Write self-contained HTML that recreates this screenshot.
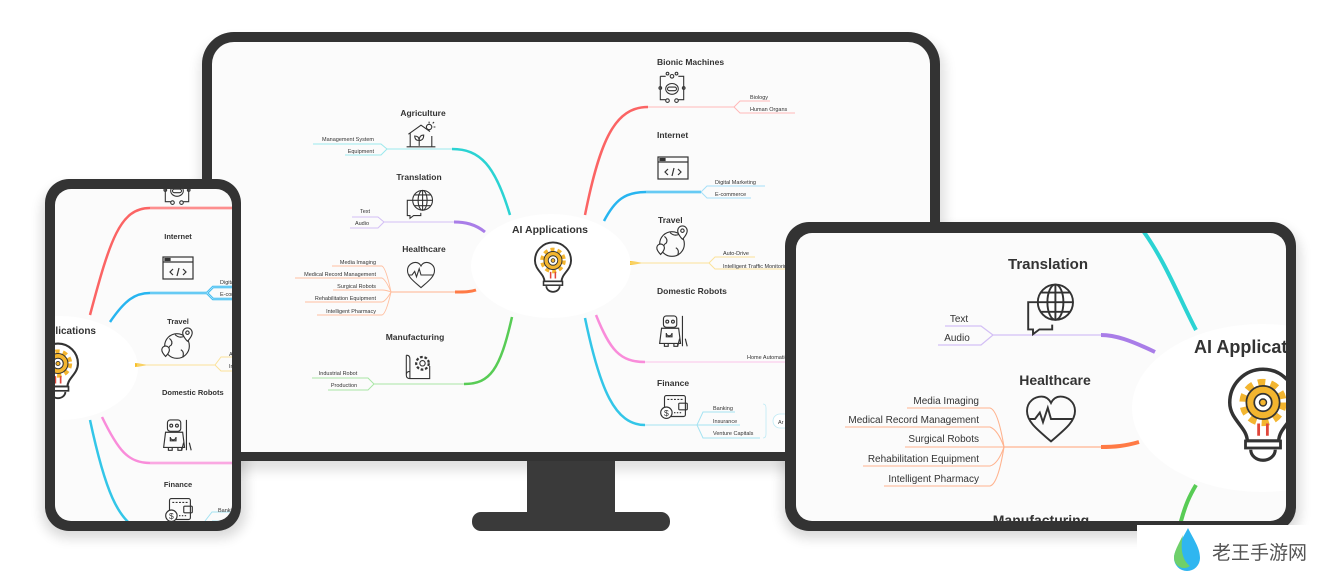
<!DOCTYPE html>
<html><head><meta charset="utf-8"><style>
html,body{margin:0;padding:0;background:#fff;}
svg{display:block;}
text{font-family:"Liberation Sans","Noto Sans CJK SC",sans-serif;fill:#333;}
.h{font-weight:bold;}
</style></head><body>
<svg width="1337" height="575" viewBox="0 0 1337 575" xmlns="http://www.w3.org/2000/svg">
<defs>
<filter id="sh" x="-10%" y="-10%" width="120%" height="130%"><feGaussianBlur stdDeviation="6"/></filter>
<clipPath id="cm"><rect x="212" y="42" width="718" height="410" rx="22"/></clipPath>
<clipPath id="cp"><rect x="55" y="189" width="177" height="332" rx="16"/></clipPath>
<clipPath id="ct"><rect x="796" y="233" width="490" height="288" rx="16"/></clipPath>
<g id="bulb">
 <path d="M-9,12 C-9,4 -19,0 -19,-10 A19,19 0 1 1 19,-10 C19,0 9,4 9,12 Z" fill="#fff" stroke="#333" stroke-width="2"/>
 <circle cx="0" cy="-10" r="11" fill="none" stroke="#f3b52f" stroke-width="5" stroke-dasharray="4 3"/>
 <circle cx="0" cy="-10" r="9.5" fill="#f3b52f" stroke="#333" stroke-width="1"/>
 <circle cx="0" cy="-10" r="5" fill="#fff" stroke="#333" stroke-width="1"/>
 <circle cx="0" cy="-10" r="2" fill="#f3b52f" stroke="#333" stroke-width="0.8"/>
 <path d="M-2.5,2 v7 M2.5,2 v7" stroke="#e0463a" stroke-width="1.6"/>
 <rect x="-10" y="12" width="20" height="4" fill="#fff" stroke="#333" stroke-width="1.6"/>
 <path d="M-7,17 a7,6 0 0 0 14,0" fill="none" stroke="#333" stroke-width="1.8"/>
</g>
<g id="i-code" fill="none" stroke="#333" stroke-width="1.2"><rect x="-15" y="-11" width="30" height="22"/><path d="M-15,-6 h30"/><rect x="-13" y="-9.5" width="2" height="2" fill="#333"/><rect x="-10" y="-9.5" width="2" height="2" fill="#333"/><path d="M-5,1 l-3,3 l3,3 M5,1 l3,3 l-3,3 M1,0 l-2,8"/></g>
<g id="i-globe" fill="none" stroke="#333" stroke-width="1.2"><path d="M-4,-3 h-9 v17 h3 v3 l4,-3 h8 v-3"/><circle cx="4" cy="-3" r="11" fill="#fff"/><path d="M-7,-3 h22 M4,-14 v22 M-5,-9 h18 M-5,3 h18"/><ellipse cx="4" cy="-3" rx="5" ry="11"/></g>
<g id="i-heart" fill="none" stroke="#333" stroke-width="1.2"><path d="M0,14 C-8,7 -15,2 -15,-5 C-15,-11 -10,-14 -6,-14 C-3,-14 -1,-12 0,-10 C1,-12 3,-14 6,-14 C10,-14 15,-11 15,-5 C15,2 8,7 0,14Z"/><path d="M-14,0 h4 l3,-4 l2,6 l3,-9 l2,7 h14"/></g>
<g id="i-house" fill="none" stroke="#333" stroke-width="1.2"><path d="M-14,-2 L0,-12 L10,-5 M-12,-3 v15 h24 v-12 M-16,12 h32"/><circle cx="9" cy="-10" r="3"/><path d="M9,-16 v2 M14,-10 h2 M13,-14 l1.5,-1.5 M-2,11 v-6 q-5,0 -5,-5 q5,0 5,5 q0,-6 5,-6 q0,6 -5,6"/></g>
<g id="i-mfg" fill="none" stroke="#333" stroke-width="1.2"><path d="M-13,-12 v22 q0,4 4,4 h22 v-14 M-13,-12 q4,0 4,4 v22 M-13,10 q0,-4 4,-4"/><circle cx="5" cy="-3" r="7" stroke-dasharray="3 2" stroke-width="2.5"/><circle cx="5" cy="-3" r="3"/></g>
<g id="i-bionic" fill="none" stroke="#333" stroke-width="1.2"><path d="M-13,-13 h6 M7,-13 h6 v26 h-6 M-7,13 h-6 v-26"/><circle cx="0" cy="-13" r="2"/><circle cx="-5" cy="-16" r="1.5"/><circle cx="5" cy="-16" r="1.5"/><circle cx="-13" cy="0" r="1.5"/><circle cx="13" cy="0" r="1.5"/><circle cx="-5" cy="14" r="2"/><circle cx="5" cy="14" r="2"/><ellipse cx="0" cy="1" rx="7" ry="6"/><rect x="-5" y="-1" width="10" height="4" rx="2"/></g>
<g id="i-world" fill="none" stroke="#333" stroke-width="1.2"><circle cx="0" cy="0" r="13"/><path d="M-8,-8 q4,3 2,7 q-4,2 -2,6 M4,4 q4,2 2,8 M-2,-12 q4,4 9,2"/><path d="M6,-14 a5,5 0 0 1 10,0 c0,4 -5,9 -5,9 c0,0 -5,-5 -5,-9z" fill="#fff"/><circle cx="11" cy="-14" r="1.8"/><path d="M-16,4 a4,4 0 0 1 8,0 c0,3 -4,7 -4,7 c0,0 -4,-4 -4,-7z" fill="#fff"/></g>
<g id="i-robot" fill="none" stroke="#333" stroke-width="1.2"><rect x="-9" y="-18" width="14" height="12" rx="3"/><circle cx="-5" cy="-12" r="1.5"/><circle cx="1" cy="-12" r="1.5"/><path d="M-11,-5 h18 l2,16 h-22 z M-6,0 a3,3 0 0 0 6,0 v4 h-6z M-8,11 v3 h4 v-3 M2,11 v3 h4 v-3 M11,-18 v24 M8,6 l-2,8 M11,6 v8 M14,6 l2,8"/></g>
<g id="i-wallet" fill="none" stroke="#333" stroke-width="1.2"><rect x="-10" y="-12" width="22" height="22" rx="2"/><path d="M-7,-8 h16" stroke-dasharray="2 1.5"/><rect x="5" y="-4" width="9" height="7" rx="1"/><circle cx="-8" cy="6" r="6" fill="#fff"/><text x="-8" y="9.5" text-anchor="middle" font-size="9" stroke="none" style="fill:#333">$</text><path d="M0,6 h8" stroke-dasharray="1.5 1.5"/></g>
</defs>

<!-- shadows -->
<rect x="200" y="40" width="745" height="430" rx="30" fill="#000" opacity="0.12" filter="url(#sh)"/>
<rect x="42" y="186" width="204" height="352" rx="26" fill="#000" opacity="0.15" filter="url(#sh)"/>
<rect x="782" y="228" width="518" height="310" rx="26" fill="#000" opacity="0.15" filter="url(#sh)"/>

<!-- MONITOR -->
<rect x="527" y="455" width="88" height="60" fill="#3a3a3a"/>
<rect x="472" y="512" width="198" height="19" rx="9" fill="#3a3a3a"/>
<rect x="202" y="32" width="738" height="429" rx="32" fill="#333"/>
<rect x="212" y="42" width="718" height="410" rx="22" fill="#fbfbfb"/>
<g clip-path="url(#cm)">
 <ellipse cx="551" cy="266" rx="80" ry="52" fill="#fff"/>
 <text x="550" y="233" text-anchor="middle" class="h" font-size="10.5">AI Applications</text>
 <use href="#bulb" transform="translate(553,270) scale(0.95)"/>
 <!-- Agriculture -->
 <path d="M510,215 C495,165 480,149 452,149" fill="none" stroke="#2bd3d3" stroke-width="2.5"/>
 <path d="M452,149 H387 L381,144 313,144 M387,149 L381,155 H345" fill="none" stroke="#9be8ec" stroke-width="1"/>
 <text x="423" y="116" text-anchor="middle" class="h" font-size="8.5">Agriculture</text>
 <use href="#i-house" transform="translate(421,136) scale(0.9)"/>
 <text x="374" y="141" text-anchor="end" font-size="5.5">Management System</text>
 <text x="374" y="153" text-anchor="end" font-size="5.5">Equipment</text>
 <!-- Translation -->
 <path d="M485,232 C475,224 465,222 454,222" fill="none" stroke="#a97de8" stroke-width="3"/>
 <path d="M454,222 H384 L378,217 H352 M384,222 L378,228 H350" fill="none" stroke="#d3bff5" stroke-width="1"/>
 <text x="419" y="180" text-anchor="middle" class="h" font-size="8.5">Translation</text>
 <use href="#i-globe" transform="translate(419,203) scale(0.9)"/>
 <text x="365" y="213" text-anchor="middle" font-size="5.5">Text</text>
 <text x="362" y="225" text-anchor="middle" font-size="5.5">Audio</text>
 <!-- Healthcare -->
 <path d="M476,290 C470,292 465,292 455,292" fill="none" stroke="#ff7a45" stroke-width="3"/>
 <path d="M455,292 H391" fill="none" stroke="#ffb38f" stroke-width="1"/>
 <g fill="none" stroke="#ffbfa0" stroke-width="0.9">
  <path d="M391,292 Q386,268 382,266 H332"/><path d="M391,292 Q386,280 382,278 H295"/><path d="M391,292 Q386,290 382,290 H333"/><path d="M391,292 Q386,301 382,302 H305"/><path d="M391,292 Q386,314 382,315 H317"/>
 </g>
 <text x="424" y="252" text-anchor="middle" class="h" font-size="8.5">Healthcare</text>
 <use href="#i-heart" transform="translate(421,275) scale(0.9)"/>
 <g font-size="5.5" text-anchor="end">
  <text x="376" y="264">Media Imaging</text><text x="376" y="276">Medical Record Management</text><text x="376" y="288">Surgical Robots</text><text x="376" y="300">Rehabilitation Equipment</text><text x="376" y="313">Intelligent Pharmacy</text>
 </g>
 <!-- Manufacturing -->
 <path d="M512,317 C500,370 490,384 464,384" fill="none" stroke="#58cc55" stroke-width="2.5"/>
 <path d="M464,384 H374 L368,378 H312 M374,384 L368,390 H328" fill="none" stroke="#a8e6a5" stroke-width="1"/>
 <text x="415" y="340" text-anchor="middle" class="h" font-size="8.5">Manufacturing</text>
 <use href="#i-mfg" transform="translate(418,366) scale(0.9)"/>
 <text x="338" y="375" text-anchor="middle" font-size="5.5">Industrial Robot</text>
 <text x="344" y="387" text-anchor="middle" font-size="5.5">Production</text>
 <!-- Bionic -->
 <path d="M585,215 C600,140 615,107 648,107" fill="none" stroke="#fb6464" stroke-width="2.5"/>
 <path d="M648,107 H734 L740,101 H770 M734,107 L740,113 H795" fill="none" stroke="#ffb8b8" stroke-width="1"/>
 <text x="657" y="65" class="h" font-size="8.5">Bionic Machines</text>
 <use href="#i-bionic" transform="translate(672,88) scale(0.9)"/>
 <text x="750" y="99" font-size="5.5">Biology</text>
 <text x="750" y="111" font-size="5.5">Human Organs</text>
 <!-- Internet -->
 <path d="M604,221 C615,200 625,192 646,192 H701" fill="none" stroke="#27b5f0" stroke-width="2.5"/>
 <path d="M646,192 H701 L707,186 H765 M701,192 L707,198 H751" fill="none" stroke="#a6dff8" stroke-width="1"/>
 <text x="657" y="138" class="h" font-size="8.5">Internet</text>
 <use href="#i-code" transform="translate(673,168) scale(1)"/>
 <text x="715" y="184" font-size="5.5">Digital Marketing</text>
 <text x="715" y="196" font-size="5.5">E-commerce</text>
 <!-- Travel -->
 <path d="M630,261 L645,263 L630,265 Z" fill="#f7c02a"/>
 <path d="M630,263 H709 L715,257 H755 M709,263 L715,269 H790" fill="none" stroke="#fbe29a" stroke-width="1"/>
 <text x="658" y="223" class="h" font-size="8.5">Travel</text>
 <use href="#i-world" transform="translate(672,244) scale(0.95)"/>
 <text x="723" y="255" font-size="5.5">Auto-Drive</text>
 <text x="723" y="268" font-size="5.5">Intelligent Traffic Monitoring</text>
 <!-- Domestic -->
 <path d="M596,315 C610,350 620,362 645,362" fill="none" stroke="#f98cda" stroke-width="2.5"/>
 <path d="M645,362 H800" fill="none" stroke="#fbc3ea" stroke-width="1"/>
 <text x="657" y="294" class="h" font-size="8.5">Domestic Robots</text>
 <use href="#i-robot" transform="translate(672,333) scale(0.95)"/>
 <text x="747" y="359" font-size="5.5">Home Automation</text>
 <!-- Finance -->
 <path d="M585,318 C600,390 615,425 645,425" fill="none" stroke="#33c6e8" stroke-width="2.5"/>
 <path d="M645,425 H697 L703,412 H735 M697,425 L703,425 H740 M697,425 L703,438 H760" fill="none" stroke="#a5e3f2" stroke-width="1"/>
 <path d="M763,404 q3,0 3,4 v26 q0,4 -3,4" fill="none" stroke="#bfeaf5" stroke-width="0.8"/>
 <rect x="773" y="414" width="30" height="14" rx="7" fill="#fff" stroke="#bfeaf5" stroke-width="0.8"/>
 <text x="778" y="424" font-size="5.5">Ar</text>
 <text x="657" y="386" class="h" font-size="8.5">Finance</text>
 <use href="#i-wallet" transform="translate(674,407) scale(0.95)"/>
 <text x="713" y="410" font-size="5.5">Banking</text>
 <text x="713" y="423" font-size="5.5">Insurance</text>
 <text x="713" y="435" font-size="5.5">Venture Capitals</text>
</g>

<!-- PHONE -->
<rect x="45" y="179" width="196" height="352" rx="24" fill="#333"/>
<rect x="55" y="189" width="177" height="332" rx="16" fill="#fbfbfb"/>
<g clip-path="url(#cp)">
 <path d="M90,315 C110,240 120,208 150,208 H240" fill="none" stroke="#fb6464" stroke-width="2.5"/>
 <path d="M150,208 H240" stroke="#ffb8b8" stroke-width="1"/>
 <path d="M110,322 C125,300 135,293 150,293 H207 L213,287 H240 M207,293 L213,299 H240" fill="none" stroke="#27b5f0" stroke-width="2.5"/>
 <path d="M150,293 H207 L213,287 H240 M207,293 L213,299 H240" fill="none" stroke="#a6dff8" stroke-width="1"/>
 <path d="M102,417 C118,450 128,463 150,463 H240" fill="none" stroke="#f98cda" stroke-width="2.5"/>
 <path d="M150,463 H240" stroke="#fbc3ea" stroke-width="1"/>
 <path d="M90,420 C105,490 118,521 140,530" fill="none" stroke="#33c6e8" stroke-width="2.5"/>
 <ellipse cx="60" cy="368" rx="78" ry="52" fill="#fff"/>
 <path d="M135,363 L150,365 L135,367Z" fill="#f7c02a"/>
 <path d="M137,365 H215 L221,357 H240 M215,365 L221,371 H240" fill="none" stroke="#fbe29a" stroke-width="1"/>
 <path d="M205,521 L212,512 H240 M212,521 H240" fill="none" stroke="#a5e3f2" stroke-width="1"/>
 <text x="96" y="334" text-anchor="end" class="h" font-size="10">Applications</text>
 <use href="#bulb" transform="translate(58,374) scale(1.05)"/>
 <use href="#i-bionic" transform="translate(177,190) scale(0.9)"/>
 <text x="178" y="239" text-anchor="middle" class="h" font-size="7.5">Internet</text>
 <use href="#i-code" transform="translate(178,268) scale(1)"/>
 <text x="220" y="284" font-size="5.5">Digital</text><text x="220" y="296" font-size="5.5">E-commerce</text>
 <text x="178" y="324" text-anchor="middle" class="h" font-size="7.5">Travel</text>
 <use href="#i-world" transform="translate(177,346) scale(0.95)"/>
 <text x="229" y="356" font-size="5.5">Auto</text><text x="229" y="368" font-size="5.5">Intelligent</text>
 <text x="162" y="395" class="h" font-size="7.5">Domestic Robots</text>
 <use href="#i-robot" transform="translate(176,437) scale(0.95)"/>
 <text x="178" y="487" text-anchor="middle" class="h" font-size="7.5">Finance</text>
 <use href="#i-wallet" transform="translate(179,510) scale(0.95)"/>
 <text x="218" y="512" font-size="5.5">Banking</text>
</g>

<!-- TABLET -->
<rect x="785" y="222" width="511" height="309" rx="24" fill="#333"/>
<rect x="796" y="233" width="490" height="288" rx="16" fill="#fbfbfb"/>
<g clip-path="url(#ct)">
 <path d="M1141,228 C1165,260 1180,300 1196,330" fill="none" stroke="#2bd3d3" stroke-width="4"/>
 <path d="M1180,525 C1185,505 1190,495 1196,485" fill="none" stroke="#58cc55" stroke-width="4"/>
 <ellipse cx="1262" cy="408" rx="130" ry="84" fill="#fff"/>
 <path d="M1155,352 C1130,340 1115,335 1101,335" fill="none" stroke="#a97de8" stroke-width="4"/>
 <path d="M1101,335 H993 L981,326 H945 M993,335 L981,345 H938" fill="none" stroke="#d3bff5" stroke-width="1.2"/>
 <text x="1048" y="269" text-anchor="middle" class="h" font-size="15">Translation</text>
 <use href="#i-globe" transform="translate(1049,307) scale(1.6)"/>
 <text x="959" y="322" text-anchor="middle" font-size="10">Text</text>
 <text x="957" y="341" text-anchor="middle" font-size="10">Audio</text>
 <path d="M1139,442 C1125,446 1115,447 1101,447" fill="none" stroke="#ff7a45" stroke-width="4"/>
 <path d="M1101,447 H1004" fill="none" stroke="#ffb38f" stroke-width="1.2"/>
 <g fill="none" stroke="#ffb38f" stroke-width="1.1">
  <path d="M1004,447 Q998,410 990,408 H907"/><path d="M1004,447 Q998,430 990,427 H845"/><path d="M1004,447 Q998,447 990,447 H905"/><path d="M1004,447 Q998,464 990,466 H863"/><path d="M1004,447 Q998,484 990,486 H884"/>
 </g>
 <text x="1055" y="385" text-anchor="middle" class="h" font-size="14">Healthcare</text>
 <use href="#i-heart" transform="translate(1051,419) scale(1.6)"/>
 <g font-size="10" text-anchor="end">
  <text x="979" y="404">Media Imaging</text><text x="979" y="423">Medical Record Management</text><text x="979" y="442">Surgical Robots</text><text x="979" y="462">Rehabilitation Equipment</text><text x="979" y="482">Intelligent Pharmacy</text>
 </g>
 <text x="1041" y="525" text-anchor="middle" class="h" font-size="14">Manufacturing</text>
 <text x="1194" y="353" class="h" font-size="18">AI Applications</text>
 <use href="#bulb" transform="translate(1263,420) scale(1.75)"/>
</g>

<!-- watermark -->
<rect x="1137" y="525" width="200" height="50" fill="#fff"/>
<path d="M1188,528 C1182,540 1174,550 1174,558 A13,13 0 0 0 1200,558 C1200,548 1194,540 1188,528Z" fill="#2fb6f0"/>
<path d="M1183,535 C1178,545 1174,552 1174,558 A10,10 0 0 0 1190,566 C1182,560 1180,548 1183,535Z" fill="#6fd06a"/>
<text x="1212" y="559" font-size="19" style="fill:#555">老王手游网</text>
</svg>
</body></html>
